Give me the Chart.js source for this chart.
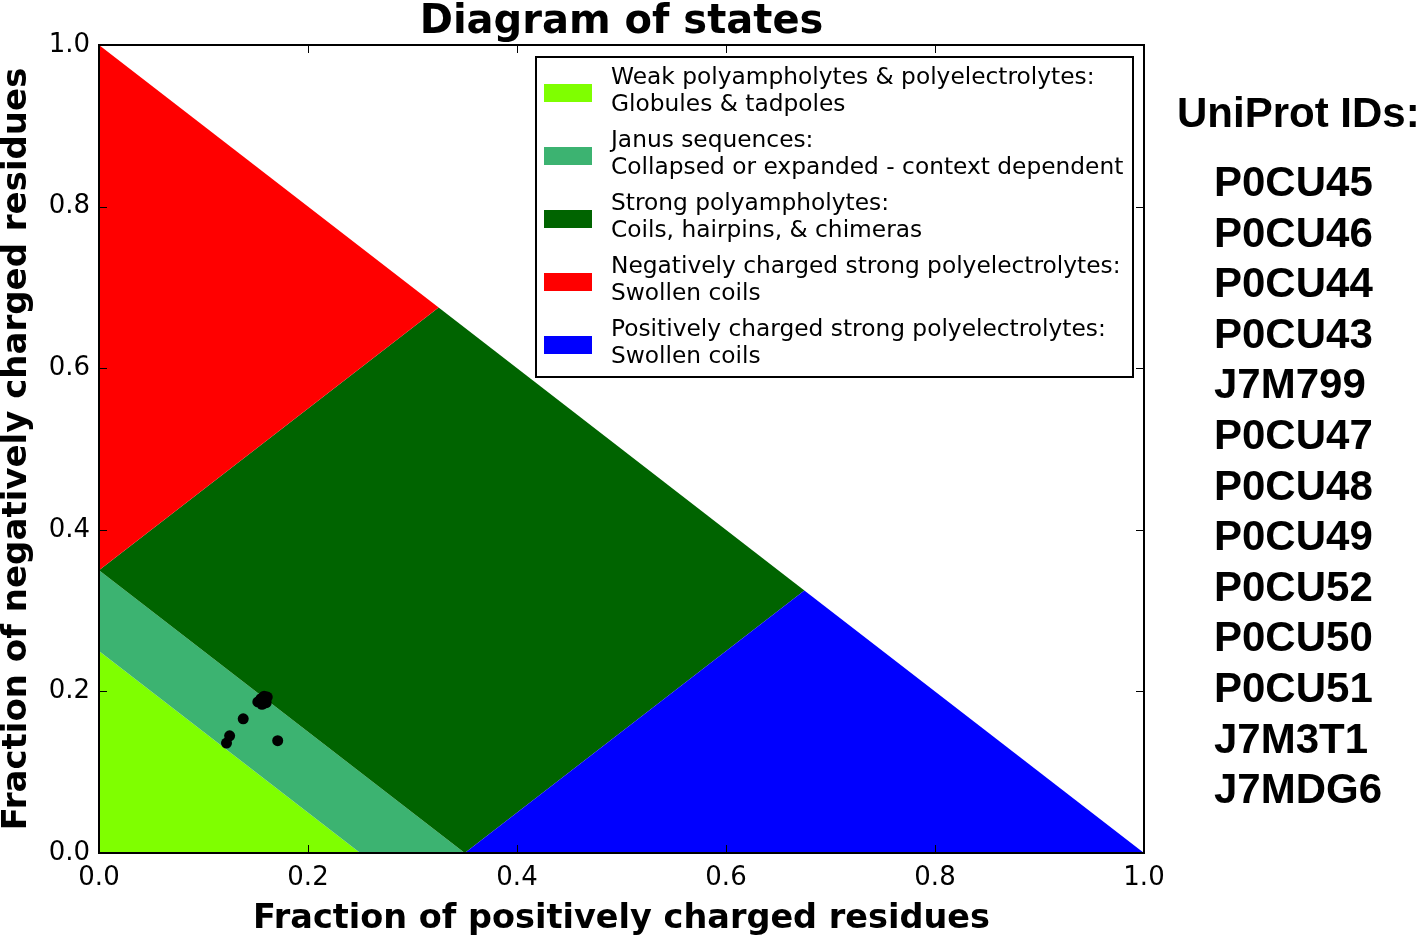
<!DOCTYPE html>
<html><head><meta charset="utf-8">
<script src="https://cdn.jsdelivr.net/npm/chart.js@4.4.0/dist/chart.umd.min.js"></script>
<style>html,body{margin:0;padding:0;background:#fff;}canvas{display:block}</style>
</head><body>
<canvas id="c" width="1418" height="939"></canvas>
<script>
const chartTitle = 'Diagram of states';
const xAxisTitle = 'Fraction of positively charged residues';
const yAxisTitle = 'Fraction of negatively charged residues';
const tickValues = [0, 0.2, 0.4, 0.6, 0.8, 1.0];

const regionLabels = [
  ['Weak polyampholytes & polyelectrolytes:', 'Globules & tadpoles'],
  ['Janus sequences:', 'Collapsed or expanded - context dependent'],
  ['Strong polyampholytes:', 'Coils, hairpins, & chimeras'],
  ['Negatively charged strong polyelectrolytes:', 'Swollen coils'],
  ['Positively charged strong polyelectrolytes:', 'Swollen coils']
];
const regionColors = ['#7fff00', '#3cb371', '#006400', '#ff0000', '#0000ff'];

// region boundaries [f+, f-]
const weakRegion     = [[0, 0], [0.25, 0], [0, 0.25]];
const janusRegion    = [[0, 0.25], [0.25, 0], [0.35, 0], [0, 0.35]];
const strongPARegion = [[0, 0.35], [0.35, 0], [0.675, 0.325], [0.325, 0.675]];
const negPERegion    = [[0, 0.35], [0.325, 0.675], [0, 1]];
const posPERegion    = [[0.35, 0], [1, 0], [0.675, 0.325]];
const regions = [weakRegion, janusRegion, strongPARegion, negPERegion, posPERegion];

const uniprotIds = ['P0CU45','P0CU46','P0CU44','P0CU43','J7M799','P0CU47','P0CU48','P0CU49','P0CU52','P0CU50','P0CU51','J7M3T1','J7MDG6'];
const fPlus  = [0.152, 0.155, 0.158, 0.161, 0.160, 0.156, 0.154, 0.159, 0.157, 0.138, 0.125, 0.122, 0.171];
const fMinus = [0.187, 0.191, 0.194, 0.193, 0.186, 0.184, 0.188, 0.189, 0.192, 0.166, 0.145, 0.136, 0.139];

const regionDatasets = regions.map((poly, i) => ({
  label: regionLabels[i].join(' '),
  polygon: true,
  data: poly.map(p => ({x: p[0], y: p[1]})),
  backgroundColor: regionColors[i],
  pointRadius: 0,
  showLine: false
}));

const polygonPlugin = {
  id: 'polygonFill',
  beforeDatasetsDraw(chart) {
    const ctx = chart.ctx;
    chart.data.datasets.forEach((ds, i) => {
      if (!ds.polygon) return;
      const pts = chart.getDatasetMeta(i).data;
      ctx.save();
      ctx.beginPath();
      pts.forEach((p, k) => k === 0 ? ctx.moveTo(p.x, p.y) : ctx.lineTo(p.x, p.y));
      ctx.closePath();
      ctx.fillStyle = ds.backgroundColor;
      ctx.fill();
      ctx.restore();
    });
  }
};

const decorPlugin = {
  id: 'decor',
  afterDraw(chart) {
    const ctx = chart.ctx;
    const a = chart.chartArea;
    const xs = chart.scales.x, ys = chart.scales.y;
    ctx.save();
    // inward ticks
    ctx.strokeStyle = '#000';
    ctx.lineWidth = 1;
    tickValues.forEach(v => {
      const px = Math.round(xs.getPixelForValue(v)) + 0.5;
      const py = Math.round(ys.getPixelForValue(v)) + 0.5;
      ctx.beginPath();
      ctx.moveTo(px, a.bottom); ctx.lineTo(px, a.bottom - 8);
      ctx.moveTo(px, a.top); ctx.lineTo(px, a.top + 8);
      ctx.moveTo(a.left, py); ctx.lineTo(a.left + 8, py);
      ctx.moveTo(a.right, py); ctx.lineTo(a.right - 8, py);
      ctx.stroke();
    });
    // frame
    ctx.lineWidth = 2;
    ctx.strokeRect(a.left, a.top, a.right - a.left, a.bottom - a.top);

    // title
    ctx.fillStyle = '#000';
    ctx.font = 'bold 40px "DejaVu Sans"';
    ctx.textAlign = 'center';
    ctx.textBaseline = 'alphabetic';
    ctx.fillText(chartTitle, (a.left + a.right) / 2, 33);

    // legend
    const lx = a.right - 608, ly = a.top + 12, lw = 597, lh = 320;
    ctx.fillStyle = '#fff';
    ctx.fillRect(lx, ly, lw, lh);
    ctx.lineWidth = 2;
    ctx.strokeStyle = '#000';
    ctx.strokeRect(lx, ly, lw, lh);
    ctx.font = '23.3px "DejaVu Sans"';
    ctx.textAlign = 'left';
    regionLabels.forEach((lines, i) => {
      const b1 = ly + 27 + i * 63;
      ctx.fillStyle = regionColors[i];
      ctx.fillRect(lx + 8, b1, 48, 18);
      ctx.fillStyle = '#000';
      ctx.fillText(lines[0], lx + 75, b1);
      ctx.fillText(lines[1], lx + 75, b1 + 27);
    });

    // UniProt IDs
    ctx.fillStyle = '#000';
    ctx.font = 'bold 42px "Liberation Sans"';
    ctx.textAlign = 'left';
    ctx.fillText('UniProt IDs:', 1177, 127);
    uniprotIds.forEach((id, i) => ctx.fillText(id, 1214, 196 + i * 50.6));
    ctx.restore();
  }
};

new Chart(document.getElementById('c'), {
  type: 'scatter',
  data: {
    datasets: [
      {
        label: 'Proteins',
        data: fPlus.map((v, i) => ({x: v, y: fMinus[i]})),
        backgroundColor: '#000',
        borderWidth: 0,
        pointRadius: 5.5
      },
      ...regionDatasets
    ]
  },
  options: {
    responsive: false,
    animation: false,
    events: [],
    layout: {padding: {top: 45, right: 274, left: 0, bottom: 0}},
    plugins: {legend: {display: false}, tooltip: {enabled: false}, title: {display: false}},
    scales: {
      x: {
        type: 'linear', min: 0, max: 1,
        grid: {display: false, drawTicks: false},
        border: {display: false},
        ticks: {stepSize: 0.2, callback: v => v.toFixed(1), color: '#000', padding: 10,
                font: {family: 'DejaVu Sans', size: 26}, maxRotation: 0},
        title: {display: true, text: xAxisTitle, color: '#000',
                font: {family: 'DejaVu Sans', size: 33.5, weight: 'bold', lineHeight: 1.1}, padding: {top: 0, bottom: 1}},
        afterFit(s) { s.height = 86; }
      },
      y: {
        type: 'linear', min: 0, max: 1,
        grid: {display: false, drawTicks: false},
        border: {display: false},
        ticks: {stepSize: 0.2, callback: v => v.toFixed(1), color: '#000', padding: 9,
                font: {family: 'DejaVu Sans', size: 26}},
        title: {display: true, text: yAxisTitle, color: '#000',
                font: {family: 'DejaVu Sans', size: 34, weight: 'bold', lineHeight: 1.0}, padding: {top: 0, bottom: 0}},
        afterFit(s) { s.width = 99; }
      }
    }
  },
  plugins: [polygonPlugin, decorPlugin]
});
</script>
</body></html>
